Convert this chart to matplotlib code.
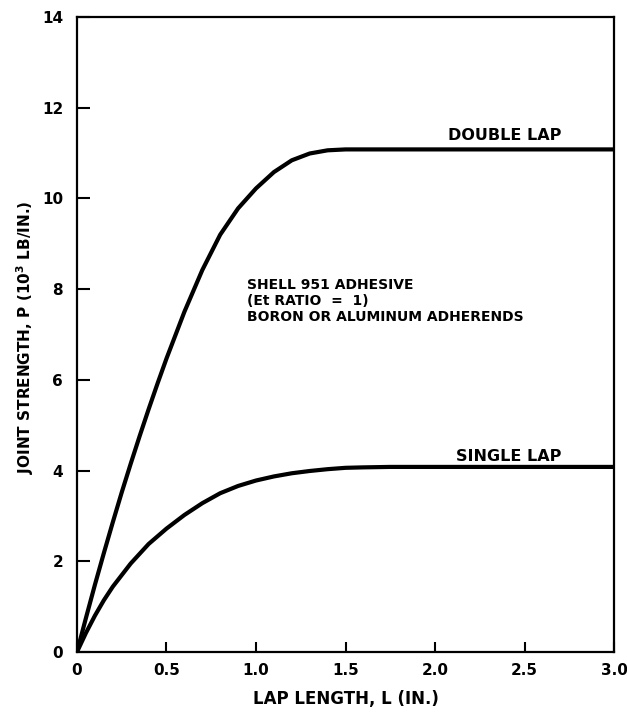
import numpy as np
import matplotlib.pyplot as plt

plt.rcParams['font.family'] = ['DejaVu Sans']
plt.rcParams['font.weight'] = 'bold'
plt.rcParams['axes.labelweight'] = 'bold'

# lap length L (in.) vs joint strength P (10^3 lb/in.)
lap_double = [0, 0.05, 0.1, 0.15, 0.2, 0.25, 0.3, 0.35, 0.4, 0.45, 0.5,
              0.6, 0.7, 0.8, 0.9, 1.0, 1.1, 1.2, 1.3, 1.4, 1.5, 2.0, 2.5, 3.0]
p_double = [0, 0.75, 1.48, 2.18, 2.86, 3.52, 4.15, 4.76, 5.35, 5.92, 6.47,
            7.5, 8.42, 9.2, 9.78, 10.22, 10.58, 10.84, 10.99, 11.06, 11.08,
            11.08, 11.08, 11.08]

lap_single = [0, 0.05, 0.1, 0.15, 0.2, 0.3, 0.4, 0.5, 0.6, 0.7, 0.8, 0.9, 1.0,
              1.1, 1.2, 1.3, 1.4, 1.5, 1.6, 1.75, 2.0, 2.5, 3.0]
p_single = [0, 0.42, 0.8, 1.14, 1.44, 1.95, 2.38, 2.72, 3.02, 3.28, 3.5, 3.66, 3.78,
            3.87, 3.94, 3.99, 4.03, 4.06, 4.07, 4.08, 4.08, 4.08, 4.08]

xticks = [0, 0.5, 1.0, 1.5, 2.0, 2.5, 3.0]
xticklabels = ['0', '0.5', '1.0', '1.5', '2.0', '2.5', '3.0']
yticks = [0, 2, 4, 6, 8, 10, 12, 14]

fig = plt.figure(figsize=(6.27, 7.13), dpi=100)
ax = fig.add_axes([0.1228, 0.0856, 0.8565, 0.8906])

ax.plot(lap_double, p_double, color='black', lw=3, solid_capstyle='round', solid_joinstyle='round')
ax.plot(lap_single, p_single, color='black', lw=3, solid_capstyle='round', solid_joinstyle='round')

ax.set_xlim(0, 3.0)
ax.set_ylim(0, 14)
ax.set_xticks(xticks)
ax.set_xticklabels(xticklabels)
ax.set_yticks(yticks)
ax.tick_params(axis='x', direction='in', length=7.5, width=1.5, labelsize=11, pad=8)
ax.tick_params(axis='y', direction='in', length=9, width=1.5, labelsize=11, pad=10)
for s in ax.spines.values():
    s.set_linewidth(1.6)

ax.text(2.07, 11.28, 'DOUBLE LAP', fontsize=11.5, va='baseline')
ax.text(2.12, 4.2, 'SINGLE LAP', fontsize=11.5, va='baseline')

ax.text(0.95, 8.08, 'SHELL 951 ADHESIVE', fontsize=10, va='center')
ax.text(0.95, 7.74, '(Et RATIO  =  1)', fontsize=10, va='center')
ax.text(0.95, 7.38, 'BORON OR ALUMINUM ADHERENDS', fontsize=10, va='center')

# axis titles
fig.text(345.5 / 627, 1 - 699 / 713, 'LAP LENGTH, L (IN.)',
         fontsize=12, ha='center', va='center')
fig.text(25 / 627, 1 - 337 / 713, 'JOINT STRENGTH, P (10$^3$ LB/IN.)',
         rotation=90, fontsize=11, ha='center', va='center')

fig.savefig('out.png', dpi=100)
